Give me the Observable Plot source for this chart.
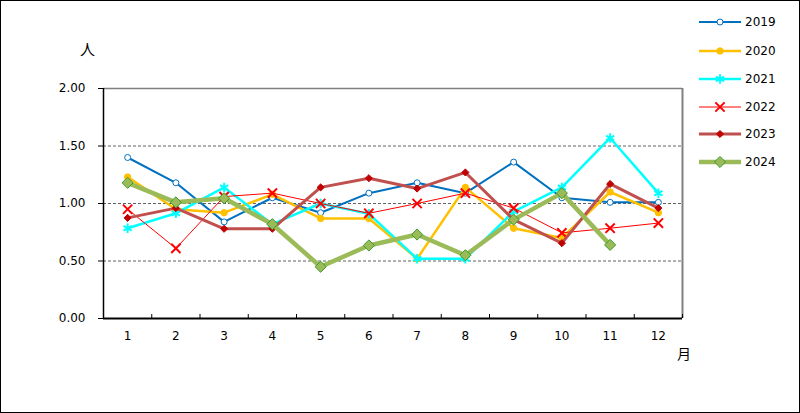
<!DOCTYPE html>
<html>
<head>
<meta charset="utf-8">
<script src="https://cdn.jsdelivr.net/npm/d3@7"></script>
<script src="https://cdn.jsdelivr.net/npm/@observablehq/plot@0.6"></script>
<style>
  body { margin: 0; background: white; }
  #wrap { position: relative; width: 800px; height: 413px; font-family: "DejaVu Sans", "Noto Sans CJK JP", sans-serif; }
  #border { position: absolute; left: 0; top: 0; width: 800px; height: 413px; border: 1px solid black; box-sizing: border-box; pointer-events: none; }
  .lbl { position: absolute; font-family: "Noto Sans CJK JP", sans-serif; color: black; line-height: 1; }
  .leg { position: absolute; font-size: 12px; line-height: 1; color: black; }
  #chart { position: absolute; left: 0; top: 0; }
</style>
</head>
<body>
<div id="wrap">
  <div id="chart"></div>
  <div id="legend"></div>
  <div class="lbl" style="left:80px; top:41px; font-size:15px;">人</div>
  <div class="lbl" style="left:677px; top:346px; font-size:14px;">月</div>
  <div id="border"></div>
</div>
<script>
const months = [1,2,3,4,5,6,7,8,9,10,11,12];
const yTicks = [0, 0.5, 1, 1.5, 2];
const years = ["2019","2020","2021","2022","2023","2024"];
const v2019 = [1.40,1.18,0.84,1.05,0.92,1.09,1.18,1.09,1.36,1.05,1.01,1.01];
const v2020 = [1.23,0.95,0.92,1.08,0.87,0.87,0.52,1.14,0.785,0.70,1.10,0.92];
const v2021 = [0.785,0.915,1.14,0.82,1.00,0.91,0.52,0.52,0.93,1.14,1.57,1.09];
const v2022 = [0.95,0.61,1.06,1.09,1.00,0.915,1.00,1.09,0.96,0.745,0.785,0.83];
const v2023 = [0.875,0.96,0.78,0.78,1.14,1.22,1.13,1.27,0.86,0.655,1.17,0.96];
const v2024 = [1.18,1.01,1.045,0.82,0.45,0.635,0.73,0.55,0.86,1.09,0.64,null];

const styles = [
  {values: v2019, stroke: "#0070C0", sw: 2,   symbol: "circle",   fill: "white",   mstroke: "#0070C0", msw: 1,   r: 3},
  {values: v2020, stroke: "#FFC000", sw: 2.5, symbol: "circle",   fill: "#FFC000", mstroke: "#FFC000", msw: 1,   r: 3.2},
  {values: v2021, stroke: "#00FFFF", sw: 2.5, symbol: "asterisk", fill: "none",    mstroke: "#00FFFF", msw: 2,   r: 4.5},
  {values: v2022, stroke: "#FF0000", sw: 1,   symbol: "times",    fill: "none",    mstroke: "#FF0000", msw: 2,   r: 4.3},
  {values: v2023, stroke: "#C0504D", sw: 3,   symbol: "diamond2", fill: "#C00000", mstroke: "#C00000", msw: 1,   r: 3.2},
  {values: v2024, stroke: "#9BBB59", sw: 4.5, symbol: "diamond2", fill: "#9BBB59", mstroke: "#3A9A2E", msw: 1,   r: 5}
];

const bounds = months.map(m => m + 0.5);
const marks = [
  Plot.ruleY([0.5, 1, 1.5], {stroke: "#606060", strokeWidth: 1, strokeDasharray: "3,2"}),
  Plot.ruleY([2], {stroke: "#808080", strokeWidth: 1.5}),
  Plot.ruleX([12.5], {stroke: "#808080", strokeWidth: 2}),
  Plot.ruleX(bounds, {stroke: "black", strokeWidth: 1, insetTop: 226}),
  Plot.axisY({ticks: yTicks, tickFormat: d3.format(".2f"), tickSize: 5, tickPadding: 13, label: null, stroke: "black"}),
  Plot.axisX({ticks: months, tickSize: 0, tickPadding: 13, label: null}),
  Plot.ruleX([0.5], {stroke: "black", strokeWidth: 1.5}),
  Plot.ruleY([0], {stroke: "black", strokeWidth: 2})
];
styles.forEach((s, i) => {
  const data = months.map((m, j) => ({month: m, value: s.values[j]})).filter(d => d.value != null);
  marks.push(Plot.line(data, {x: "month", y: "value", stroke: s.stroke, strokeWidth: s.sw, strokeLinejoin: "round"}));
  marks.push(Plot.dot(data, {x: "month", y: "value", symbol: () => s.symbol, r: s.r, fill: s.fill, stroke: s.mstroke, strokeWidth: s.msw}));
});

const chart = Plot.plot({
  width: 800,
  height: 413,
  marginLeft: 103,
  marginRight: 118,
  marginTop: 88,
  marginBottom: 95,
  style: {fontFamily: "DejaVu Sans, sans-serif", fontSize: "12px", color: "black", background: "transparent"},
  x: {type: "linear", domain: [0.5, 12.5]},
  y: {domain: [0, 2]},
  marks
});
document.getElementById("chart").appendChild(chart);

// legend
const legend = document.getElementById("legend");
const symMap = {circle: d3.symbolCircle, asterisk: d3.symbolAsterisk, times: d3.symbolTimes, diamond2: d3.symbolDiamond2};
const rowY = [22, 50.5, 78.5, 106.5, 134, 162];
styles.forEach((s, i) => {
  const svg = d3.create("svg").attr("width", 50).attr("height", 16)
    .style("position", "absolute").style("left", "696px").style("top", (rowY[i] - 8) + "px");
  svg.append("line").attr("x1", 3).attr("x2", 45).attr("y1", 8).attr("y2", 8)
    .attr("stroke", s.stroke).attr("stroke-width", s.sw);
  svg.append("path").attr("transform", "translate(24,8)")
    .attr("d", d3.symbol(symMap[s.symbol], Math.PI * s.r * s.r)())
    .attr("fill", s.fill).attr("stroke", s.mstroke).attr("stroke-width", s.msw);
  legend.appendChild(svg.node());
  const t = document.createElement("div");
  t.className = "leg";
  t.textContent = years[i];
  t.style.left = "745px";
  t.style.top = (rowY[i] - 6) + "px";
  legend.appendChild(t);
});
</script>
</body>
</html>
